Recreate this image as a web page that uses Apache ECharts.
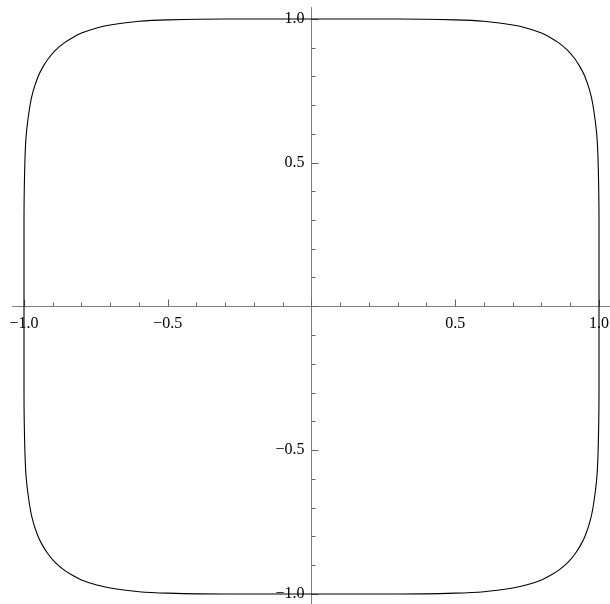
<!DOCTYPE html>
<html>
<head>
<meta charset="utf-8">
<script src="https://cdn.jsdelivr.net/npm/echarts@6/dist/echarts.min.js"></script>
<style>
  html, body { margin: 0; padding: 0; background: #fff; }
  #chart { width: 610px; height: 604px; }
</style>
</head>
<body>
<div id="chart"></div>
<script>
// closed curve, clockwise from the top
var curvePoints = [
  [0.000, 1.000], [0.300, 1.000], [0.500, 0.997], [0.600, 0.992], [0.700, 0.979],
  [0.750, 0.968], [0.800, 0.951], [0.830, 0.936], [0.860, 0.917], [0.891, 0.891],
  [0.917, 0.860], [0.936, 0.830], [0.951, 0.800], [0.968, 0.750], [0.979, 0.700],
  [0.992, 0.600], [0.997, 0.500], [1.000, 0.300], [1.000, 0.000],
  [1.000, -0.300], [0.997, -0.500], [0.992, -0.600], [0.979, -0.700], [0.968, -0.750],
  [0.951, -0.800], [0.936, -0.830], [0.917, -0.860], [0.891, -0.891], [0.860, -0.917],
  [0.830, -0.936], [0.800, -0.951], [0.750, -0.968], [0.700, -0.979], [0.600, -0.992],
  [0.500, -0.997], [0.300, -1.000], [0.000, -1.000],
  [-0.300, -1.000], [-0.500, -0.997], [-0.600, -0.992], [-0.700, -0.979], [-0.750, -0.968],
  [-0.800, -0.951], [-0.830, -0.936], [-0.860, -0.917], [-0.891, -0.891], [-0.917, -0.860],
  [-0.936, -0.830], [-0.951, -0.800], [-0.968, -0.750], [-0.979, -0.700], [-0.992, -0.600],
  [-0.997, -0.500], [-1.000, -0.300], [-1.000, 0.000],
  [-1.000, 0.300], [-0.997, 0.500], [-0.992, 0.600], [-0.979, 0.700], [-0.968, 0.750],
  [-0.951, 0.800], [-0.936, 0.830], [-0.917, 0.860], [-0.891, 0.891], [-0.860, 0.917],
  [-0.830, 0.936], [-0.800, 0.951], [-0.750, 0.968], [-0.700, 0.979], [-0.600, 0.992],
  [-0.500, 0.997], [-0.300, 1.000], [0.000, 1.000]
];

var majorTicks = [-1.0, -0.5, 0, 0.5, 1.0];
var minorTicks = [-0.9, -0.8, -0.7, -0.6, -0.4, -0.3, -0.2, -0.1,
                  0.1, 0.2, 0.3, 0.4, 0.6, 0.7, 0.8, 0.9];
var tickLabels = [-1.0, -0.5, 0.5, 1.0];

var axisMin = -1.04;
var axisMax = 1.04;

var fontFamily = "'Liberation Serif', 'DejaVu Serif', serif";

function fmt(v) {
  return Number(v).toFixed(1).replace('-', '\u2212');
}

// the axes cross at the origin: each one sits on the edge of its own
// half-size grid, since v6 leaves labels at the grid edge with onZero
var plotGrid = { left: 12.5, top: 7.5, width: 598, height: 598, outerBoundsMode: 'none' };
var xAxisGrid = { left: 12.5, top: 7.5, width: 598, height: 299, outerBoundsMode: 'none' };
var yAxisGrid = { left: 311.5, top: 7.5, width: 299, height: 598, outerBoundsMode: 'none' };

function hiddenAxis(gridIndex, withRange) {
  var a = { type: 'value', gridIndex: gridIndex, show: false, axisLine: { onZero: false } };
  if (withRange) { a.min = axisMin; a.max = axisMax; }
  return a;
}

function mainAxis(gridIndex, pos) {
  return {
    type: 'value',
    gridIndex: gridIndex,
    position: pos,
    min: axisMin,
    max: axisMax,
    splitLine: { show: false },
    axisLine: { show: true, onZero: false, lineStyle: { color: '#808080', width: 1 } },
    axisTick: { show: true, inside: true, length: 7, customValues: majorTicks, lineStyle: { color: '#666', width: 1 } },
    axisLabel: {
      show: true,
      customValues: tickLabels,
      formatter: fmt,
      margin: pos === 'bottom' ? 9 : 7,
      color: '#000',
      fontSize: 16,
      fontFamily: fontFamily,
      hideOverlap: false
    }
  };
}

// second axis only carries the short ticks
function minorAxis(gridIndex, pos) {
  return {
    type: 'value',
    gridIndex: gridIndex,
    position: pos,
    min: axisMin,
    max: axisMax,
    splitLine: { show: false },
    axisLine: { show: false, onZero: false },
    axisTick: { show: true, inside: true, length: 4, customValues: minorTicks, lineStyle: { color: '#666', width: 1 } },
    axisLabel: { show: false }
  };
}

var chart = echarts.init(document.getElementById('chart'));
chart.setOption({
  animation: false,
  backgroundColor: '#fff',
  grid: [plotGrid, xAxisGrid, yAxisGrid],
  xAxis: [
    hiddenAxis(0, true),
    mainAxis(1, 'bottom'),
    minorAxis(1, 'bottom'),
    hiddenAxis(2, false)
  ],
  yAxis: [
    hiddenAxis(0, true),
    mainAxis(2, 'left'),
    minorAxis(2, 'left'),
    hiddenAxis(1, false)
  ],
  series: [{
    type: 'line',
    xAxisIndex: 0,
    yAxisIndex: 0,
    data: curvePoints,
    smooth: 0.3,
    showSymbol: false,
    lineStyle: { color: '#000', width: 1.1 }
  }]
});
</script>
</body>
</html>
